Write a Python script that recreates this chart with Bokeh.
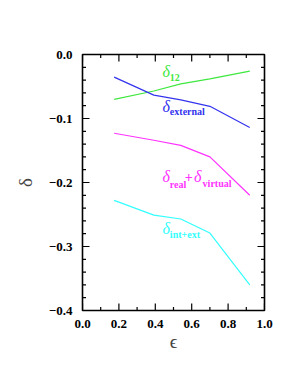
from bokeh.plotting import figure
from bokeh.models import Range1d, FixedTicker, Label, CustomJSTickFormatter
from bokeh.embed import file_html
from bokeh.resources import INLINE

eps = [0.174, 0.392, 0.54, 0.70, 0.919]
d12 = [-0.070, -0.057, -0.046, -0.038, -0.026]
d_ext = [-0.0354, -0.0635, -0.071, -0.081, -0.114]
d_rv = [-0.123, -0.134, -0.142, -0.160, -0.220]
d_ie = [-0.228, -0.251, -0.257, -0.279, -0.360]

x_ticks = [0.0, 0.2, 0.4, 0.6, 0.8, 1.0]
x_minor = [0.1 * i for i in range(11)]
y_ticks = [0.0, -0.1, -0.2, -0.3, -0.4]
y_minor = [-0.02 * i for i in range(21)]

GREEN = "#3fe83f"
BLUE = "#3333ee"
MAG = "#ff33ff"
CYAN = "#33ffff"
SERIF = "Liberation Serif"

X0, X1, Y0, Y1 = 0.0, 1.0, -0.4, 0.0
FW, FH = 182, 256

p = figure(width=295, height=382, output_backend="svg", toolbar_location=None,
           x_range=Range1d(X0, X1), y_range=Range1d(Y0, Y1),
           min_border_left=82, min_border_right=31, min_border_top=54, min_border_bottom=72,
           x_axis_label="ϵ", y_axis_label="δ")
p.grid.visible = False
p.outline_line_color = "black"
p.outline_line_width = 1.6
p.background_fill_color = "white"
p.border_fill_color = "white"

fmt = CustomJSTickFormatter(code="return tick.toFixed(1).replace('-', '\u2212');")

def style(ax):
    ax.axis_line_color = None
    ax.major_tick_in = 0
    ax.major_tick_out = 0
    ax.minor_tick_in = 0
    ax.minor_tick_out = 0
    ax.major_label_text_font = SERIF
    ax.major_label_text_font_style = "bold"
    ax.major_label_text_font_size = "13px"
    ax.major_label_text_color = "black"
    ax.axis_label_text_font = SERIF
    ax.axis_label_text_font_style = "normal"
    ax.axis_label_text_font_size = "19px"

p.xaxis.ticker = FixedTicker(ticks=x_ticks, minor_ticks=x_minor)
p.yaxis.ticker = FixedTicker(ticks=y_ticks, minor_ticks=y_minor)
p.xaxis.formatter = fmt
p.yaxis.formatter = fmt
for ax in p.xaxis + p.yaxis:
    style(ax)
p.xaxis.major_label_standoff = 9
p.yaxis.major_label_standoff = 10
p.xaxis.axis_label_standoff = 0
p.yaxis.axis_label_standoff = 10

# inward tick marks on all four sides
mj_x, mn_x = 7 / FW * (X1 - X0), 3.5 / FW * (X1 - X0)
mj_y, mn_y = 7 / FH * (Y1 - Y0), 3.5 / FH * (Y1 - Y0)
xm = [t for t in x_minor if all(abs(t - m) > 1e-9 for m in x_ticks)]
ym = [t for t in y_minor if all(abs(t - m) > 1e-9 for m in y_ticks)]
tk = dict(line_color="black", line_width=1.2)
p.segment(x_ticks, [Y0] * len(x_ticks), x_ticks, [Y0 + mj_y] * len(x_ticks), **tk)
p.segment(x_ticks, [Y1] * len(x_ticks), x_ticks, [Y1 - mj_y] * len(x_ticks), **tk)
p.segment(xm, [Y0] * len(xm), xm, [Y0 + mn_y] * len(xm), **tk)
p.segment(xm, [Y1] * len(xm), xm, [Y1 - mn_y] * len(xm), **tk)
p.segment([X0] * len(y_ticks), y_ticks, [X0 + mj_x] * len(y_ticks), y_ticks, **tk)
p.segment([X1] * len(y_ticks), y_ticks, [X1 - mj_x] * len(y_ticks), y_ticks, **tk)
p.segment([X0] * len(ym), ym, [X0 + mn_x] * len(ym), ym, **tk)
p.segment([X1] * len(ym), ym, [X1 - mn_x] * len(ym), ym, **tk)

p.line(eps, d12, line_color=GREEN, line_width=1.2)
p.line(eps, d_ext, line_color=BLUE, line_width=1.2)
p.line(eps, d_rv, line_color=MAG, line_width=1.2)
p.line(eps, d_ie, line_color=CYAN, line_width=1.2)

def lab(x, y, t, c, size, style_):
    p.add_layout(Label(x=x, y=y, text=t, text_color=c, text_font=SERIF,
                       text_font_size=size, text_font_style=style_,
                       text_baseline="middle", text_align="left"))

lab(0.44, -0.027, "δ", GREEN, "16px", "italic")
lab(0.48, -0.0364, "12", GREEN, "10px", "bold")
lab(0.44, -0.0816, "δ", BLUE, "16px", "italic")
lab(0.48, -0.089, "external", BLUE, "10px", "bold")
lab(0.44, -0.190, "δ", MAG, "16px", "italic")
lab(0.48, -0.2028, "real", MAG, "10px", "bold")
lab(0.562, -0.1914, "+", MAG, "14px", "bold")
lab(0.612, -0.190, "δ", MAG, "16px", "italic")
lab(0.66, -0.202, "virtual", MAG, "10px", "bold")
lab(0.44, -0.272, "δ", CYAN, "16px", "italic")
lab(0.48, -0.281, "int+ext", CYAN, "10px", "bold")

open("out.html", "w").write(file_html(p, INLINE))
